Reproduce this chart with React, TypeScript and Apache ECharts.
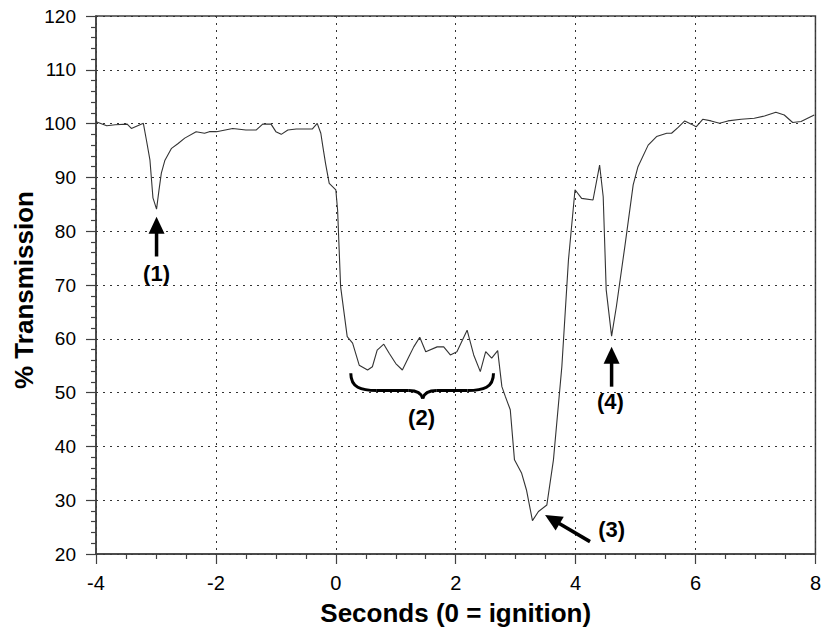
import React, { useEffect, useRef } from "react";
import * as echarts from "echarts";

// Time axis (seconds, 0 = ignition)
const times = [
  -4.0, -3.82, -3.68, -3.48, -3.41, -3.21, -3.16, -3.1, -3.05, -2.99, -2.95, -2.91, -2.85, -2.74,
  -2.63, -2.52, -2.33, -2.19, -2.11, -1.99, -1.72, -1.5, -1.33, -1.22, -1.08, -1.0, -0.91, -0.8,
  -0.66, -0.39, -0.31, -0.25, -0.22, -0.17, -0.11, 0.0, 0.03, 0.08, 0.19, 0.28, 0.39, 0.53, 0.61,
  0.69, 0.8, 0.89, 1.0, 1.11, 1.22, 1.3, 1.4, 1.5, 1.69, 1.8, 1.91, 2.02, 2.19, 2.3, 2.41, 2.5,
  2.6, 2.7, 2.77, 2.83, 2.91, 2.98, 3.1, 3.18, 3.28, 3.38, 3.52, 3.63, 3.77, 3.88, 3.99, 4.1,
  4.29, 4.4, 4.46, 4.51, 4.6, 4.68, 4.82, 4.96, 5.04, 5.21, 5.35, 5.52, 5.6, 5.71, 5.82, 5.93,
  6.01, 6.12, 6.26, 6.4, 6.54, 6.76, 6.98, 7.15, 7.34, 7.48, 7.62, 7.76, 7.98,
];

// % Transmission
const transmission = [
  100.35, 99.6, 99.8, 99.9, 99.1, 100.05, 97.0, 93.2, 86.2, 84.1, 87.6, 90.8, 93.2, 95.4,
  96.3, 97.3, 98.5, 98.2, 98.5, 98.5, 99.1, 98.8, 98.8, 99.9, 99.9, 98.5, 98.0, 98.8,
  99.0, 99.0, 100.05, 98.2, 96.0, 92.5, 88.9, 87.7, 83.9, 69.7, 60.4, 59.2, 55.1, 54.2, 54.8,
  57.9, 59.0, 57.3, 55.4, 54.2, 56.7, 58.5, 60.3, 57.6, 58.5, 58.5, 57.0, 57.6, 61.6, 57.0, 53.9, 57.6,
  56.4, 57.8, 51.1, 49.2, 46.8, 37.5, 35.0, 31.9, 26.2, 27.9, 29.1, 37.5, 54.8, 74.6, 87.7, 86.1,
  85.8, 92.3, 86.4, 69.1, 60.5, 66.0, 77.1, 88.6, 92.0, 96.0, 97.6, 98.2, 98.2, 99.3, 100.5, 99.9,
  99.4, 100.8, 100.5, 100.05, 100.5, 100.8, 101.0, 101.4, 102.1, 101.6, 100.2, 100.4, 101.6,
];

const yTitle = "% Transmission";
const xTitle = "Seconds (0 = ignition)";

// Annotation labels and their anchor points (data coordinates)
const annoLabels = ["(1)", "(2)", "(3)", "(4)"];
const annoLabelAt = [
  [-2.99, 72.2],
  [1.43, 45.3],
  [4.6, 24.5],
  [4.58, 48.3],
];
// arrows: [tail, tip]
const arrowTails = [
  [-2.99, 75.3],
  [4.24, 22.3],
  [4.6, 51.1],
];
const arrowTips = [
  [-2.99, 82.7],
  [3.49, 27.25],
  [4.6, 58.5],
];
// brace (2): left end, middle point, right end
const braceLeft = [0.25, 53.6];
const braceMid = [1.45, 48.9];
const braceRight = [2.63, 53.6];

const FONT = '"Liberation Sans", Arial, Helvetica, sans-serif';

export default function App() {
  const ref = useRef<HTMLDivElement>(null);
  useEffect(() => {
    if (!ref.current) return;
    const chart = echarts.init(ref.current, null, { renderer: "svg" });
    const data = times.map((t, i) => [t, transmission[i]]);
    chart.setOption({
      animation: false,
      backgroundColor: "#ffffff",
      grid: {
        left: 96,
        top: 16,
        right: 6,
        bottom: 79,
        show: true,
        borderColor: "#404040",
        borderWidth: 1.5,
      },
      xAxis: {
        type: "value",
        min: -4,
        max: 8,
        interval: 2,
        name: xTitle,
        nameLocation: "middle",
        nameGap: 46,
        nameTextStyle: { fontFamily: FONT, fontWeight: "bold", fontSize: 26, color: "#000" },
        axisLine: { show: true, onZero: false, lineStyle: { color: "#404040", width: 1.5 } },
        axisTick: { show: true, length: 10, lineStyle: { color: "#404040", width: 1.2 } },
        minorTick: { show: true, splitNumber: 4, length: 5, lineStyle: { color: "#404040", width: 1.2 } },
        axisLabel: { fontFamily: FONT, fontSize: 20, color: "#000", margin: 19 },
        splitLine: { show: true, lineStyle: { color: "#333", type: [2, 5], width: 1 } },
      },
      yAxis: {
        type: "value",
        min: 20,
        max: 120,
        interval: 10,
        axisLine: { show: true, onZero: false, lineStyle: { color: "#404040", width: 1.5 } },
        axisTick: { show: true, length: 10, lineStyle: { color: "#404040", width: 1.2 } },
        minorTick: { show: true, splitNumber: 5, length: 5, lineStyle: { color: "#404040", width: 1.2 } },
        axisLabel: { fontFamily: FONT, fontSize: 19, color: "#000", margin: 20 },
        splitLine: { show: true, lineStyle: { color: "#333", type: [2, 5], width: 1 } },
      },
      series: [
        {
          type: "line",
          data,
          symbol: "none",
          showSymbol: false,
          lineStyle: { color: "#333", width: 1.1 },
          z: 3,
        },
      ],
    });

    const px = (p: number[]) => chart.convertToPixel({ gridIndex: 0 }, p) as number[];
    const graphics: any[] = [];

    // y-axis title
    graphics.push({
      type: "text",
      x: 24,
      y: 290,
      rotation: Math.PI / 2,
      style: {
        text: yTitle,
        font: `bold 26px ${FONT}`,
        fill: "#000",
        align: "center",
        verticalAlign: "middle",
      },
    });

    const arrow = (tail: number[], tip: number[]) => {
      const dx = tip[0] - tail[0];
      const dy = tip[1] - tail[1];
      const len = Math.hypot(dx, dy);
      const ux = dx / len;
      const uy = dy / len;
      const hl = 17;
      const hw = 8;
      const bx = tip[0] - ux * hl;
      const by = tip[1] - uy * hl;
      const nx = -uy;
      const ny = ux;
      graphics.push({
        type: "line",
        shape: { x1: tail[0], y1: tail[1], x2: bx + ux * 2, y2: by + uy * 2 },
        style: { stroke: "#000", lineWidth: 3.5 },
        z: 10,
      });
      graphics.push({
        type: "polygon",
        shape: {
          points: [
            [tip[0], tip[1]],
            [bx + nx * hw, by + ny * hw],
            [bx - nx * hw, by - ny * hw],
          ],
        },
        style: { fill: "#000" },
        z: 10,
      });
    };

    arrowTails.forEach((t, i) => arrow(px(t), px(arrowTips[i])));

    annoLabels.forEach((lab, i) => {
      const p = px(annoLabelAt[i]);
      graphics.push({
        type: "text",
        x: p[0],
        y: p[1],
        style: {
          text: lab,
          font: `bold 22px ${FONT}`,
          fill: "#000",
          align: "center",
          verticalAlign: "middle",
        },
        z: 10,
      });
    });

    // curly brace
    const L = px(braceLeft);
    const M = px(braceMid);
    const R = px(braceRight);
    const flatY = M[1] - 8;
    const bStyle = { stroke: "#000", lineWidth: 3, fill: "none" };
    graphics.push(
      {
        type: "bezierCurve",
        shape: { x1: L[0], y1: L[1], cpx1: L[0], cpy1: flatY - 3, cpx2: L[0] + 10, cpy2: flatY, x2: L[0] + 26, y2: flatY },
        style: bStyle,
        z: 10,
      },
      {
        type: "line",
        shape: { x1: L[0] + 26, y1: flatY, x2: M[0] - 14, y2: flatY },
        style: bStyle,
        z: 10,
      },
      {
        type: "bezierCurve",
        shape: { x1: M[0] - 14, y1: flatY, cpx1: M[0] - 4, cpy1: flatY, cpx2: M[0] - 1, cpy2: M[1] - 4, x2: M[0], y2: M[1] },
        style: bStyle,
        z: 10,
      },
      {
        type: "bezierCurve",
        shape: { x1: M[0], y1: M[1], cpx1: M[0] + 1, cpy1: M[1] - 4, cpx2: M[0] + 4, cpy2: flatY, x2: M[0] + 14, y2: flatY },
        style: bStyle,
        z: 10,
      },
      {
        type: "line",
        shape: { x1: M[0] + 14, y1: flatY, x2: R[0] - 26, y2: flatY },
        style: bStyle,
        z: 10,
      },
      {
        type: "bezierCurve",
        shape: { x1: R[0] - 26, y1: flatY, cpx1: R[0] - 10, cpy1: flatY, cpx2: R[0], cpy2: flatY - 3, x2: R[0], y2: R[1] },
        style: bStyle,
        z: 10,
      }
    );

    chart.setOption({ graphic: graphics });
    return () => chart.dispose();
  }, []);

  return (
    <div
      ref={ref}
      style={{ position: "absolute", left: 0, top: 0, width: 824, height: 633, background: "#fff" }}
    />
  );
}
